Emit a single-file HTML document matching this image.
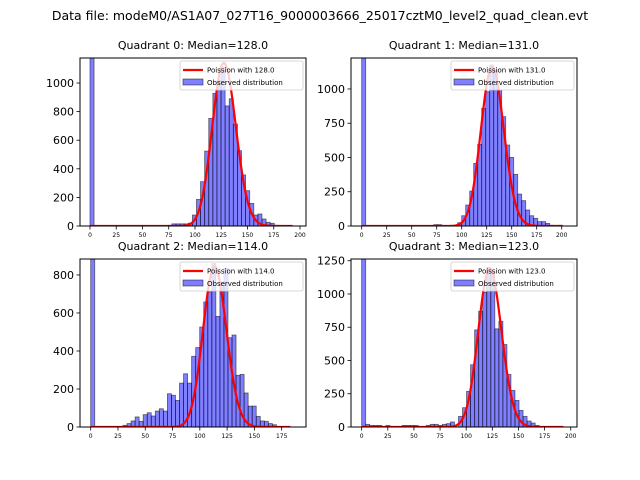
<!DOCTYPE html>
<html><head><meta charset="utf-8">
<style>
html,body{margin:0;padding:0;background:#fff;}
svg{display:block;font-family:"DejaVu Sans","Liberation Sans",sans-serif;}
</style></head>
<body>
<svg id="fig" width="640" height="480" viewBox="0 0 640 480">
<text x="320" y="20" text-anchor="middle" font-size="12.5" fill="#000">Data file: modeM0/AS1A07_027T16_9000003666_25017cztM0_level2_quad_clean.evt</text>
</svg>
<script>
// ---- data ----
const panelTitles = ["Quadrant 0: Median=128.0","Quadrant 1: Median=131.0","Quadrant 2: Median=114.0","Quadrant 3: Median=123.0"];
const medians = [128, 131, 114, 123];
const binWidths = [3.9, 4.0, 3.7, 3.86];
const q0Counts = [1300,0,0,0,0,0,0,0,0,0,0,0,0,0,0,0,0,0,0,5,15,15,15,15,20,77,186,310,524,753,928,1020,1110,840,890,713,527,357,247,158,77,84,49,26,19,5,0,0,0,0];
const q1Counts = [1300,0,0,0,0,0,0,0,0,0,0,0,0,0,0,0,0,0,10,10,0,0,0,0,24,75,153,255,457,596,859,980,1175,1140,993,798,591,501,377,233,185,117,75,56,32,32,19,5,0,5];
const q2Counts = [900,0,0,0,0,0,0,0,9,18,32,53,30,65,75,58,84,96,84,175,167,140,231,280,231,372,418,526,658,711,860,582,763,835,470,484,272,277,179,110,110,56,32,30,18,12,0,0,0,0];
const q3Counts = [1300,20,12,12,12,0,12,0,0,0,12,12,12,12,0,0,12,20,20,12,20,25,38,0,80,145,268,468,730,870,1013,1200,1163,738,795,620,395,275,200,125,80,45,30,12,0,0,0,0,0,0];
const allCounts = [q0Counts, q1Counts, q2Counts, q3Counts];
const curvePeaks = [1140, 1160, 845, 1190];
const curveEnds = [193, 201, 183, 193];
const xTicks = [[0,25,50,75,100,125,150,175,200],[0,25,50,75,100,125,150,175,200],[0,25,50,75,100,125,150,175],[0,25,50,75,100,125,150,175,200]];
const yTicks = [[0,200,400,600,800,1000],[0,250,500,750,1000],[0,200,400,600,800],[0,250,500,750,1000,1250]];
const xLims = [[-9.5,205.7],[-10.7,215.3],[-9.8,197.3],[-10.2,206]];
const yMaxes = [1175, 1226, 884, 1263];
const legendLabels = ["Poission with 128.0","Poission with 131.0","Poission with 114.0","Poission with 123.0"];

// ---- layout ----
const boxes = [[80,58,226,168],[351,58,226,168],[80,259,226,168],[351,259,226,168]];
const NS = "http://www.w3.org/2000/svg";
const svg = document.getElementById('fig');
function mk(tag, attrs, parent){const e=document.createElementNS(NS,tag);for(const k in attrs)e.setAttribute(k,attrs[k]);(parent||svg).appendChild(e);return e;}
function lgPmf(k, lam){
  function lgamma(z){const g=7,c=[0.99999999999980993,676.5203681218851,-1259.1392167224028,771.32342877765313,-176.61502916214059,12.507343278686905,-0.13857109526572012,9.9843695780195716e-6,1.5056327351493116e-7];
    if(z<0.5)return Math.log(Math.PI/Math.sin(Math.PI*z))-lgamma(1-z);z-=1;let x=c[0];for(let i=1;i<g+2;i++)x+=c[i]/(z+i);const t=z+g+0.5;return 0.5*Math.log(2*Math.PI)+(z+0.5)*Math.log(t)-t+Math.log(x);}
  return k*Math.log(lam)-lam-lgamma(k+1);
}
for(let p=0;p<4;p++){
  const [X,Y,W,H]=boxes[p];
  const [x0,x1]=xLims[p]; const ymax=yMaxes[p];
  const sx=v=>X+(v-x0)/(x1-x0)*W;
  const sy=v=>Y+H-v/ymax*H;
  const g=mk('g',{});
  
  
  const cp=mk('clipPath',{id:'cp'+p},g); mk('rect',{x:X,y:Y,width:W,height:H},cp);
  const t=mk('text',{x:X+W/2,y:Y-9,'text-anchor':'middle','font-size':'11'},g); t.textContent=panelTitles[p];
  
  
  const bars=mk('g',{'clip-path':'url(#cp'+p+')'},g);
  
  
  const bw=binWidths[p];
  allCounts[p].forEach((c,i)=>{ if(c<=0)return;
    const r=mk('rect',{x:sx(i*bw),y:sy(c),width:sx((i+1)*bw)-sx(i*bw),height:sy(0)-sy(c),fill:'rgba(0,0,255,0.5)',stroke:'rgba(0,0,0,0.55)','stroke-width':'0.8'},bars);
    
    
  });
  const lam=medians[p]; const peakLog=lgPmf(Math.floor(lam),lam);
  let d='';
  for(let k=0;k<=curveEnds[p];k++){const v=curvePeaks[p]*Math.exp(lgPmf(k,lam)-peakLog);d+=(k?'L':'M')+sx(k).toFixed(2)+','+sy(v).toFixed(2);}
  const ln=mk('path',{d:d,fill:'none',stroke:'#ff0000','stroke-width':'2.2','clip-path':'url(#cp'+p+')'},g);
  
  
  mk('rect',{x:X,y:Y,width:W,height:H,fill:'none',stroke:'#000','stroke-width':'1'},g);
  xTicks[p].forEach(v=>{const x=sx(v);mk('line',{x1:x,x2:x,y1:Y+H,y2:Y+H+3.5,stroke:'#000','stroke-width':'0.8'},g);
    const tt=mk('text',{x:x,y:Y+H+11,'text-anchor':'middle','font-size':'6'},g);tt.textContent=v;
    
    });
  yTicks[p].forEach(v=>{const y=sy(v);mk('line',{x1:X-3.5,x2:X,y1:y,y2:y,stroke:'#000','stroke-width':'0.8'},g);
    const tt=mk('text',{x:X-6,y:y+4,'text-anchor':'end','font-size':'11'},g);tt.textContent=v;
    
    });
  const lg=mk('g',{},g);
  
  
  const LX=X+W-126, LY=Y+3;
  mk('rect',{x:LX,y:LY,width:123,height:29,fill:'rgba(255,255,255,0.8)',stroke:'#ccc','stroke-width':'0.8',rx:'2'},lg);
  mk('line',{x1:LX+3,x2:LX+23,y1:LY+9,y2:LY+9,stroke:'#ff0000','stroke-width':'2.2'},lg);
  const l1=mk('text',{x:LX+27,y:LY+11.5,'font-size':'7'},lg);l1.textContent=legendLabels[p];
  
  
  mk('rect',{x:LX+3,y:LY+18,width:20,height:6,fill:'rgba(0,0,255,0.5)',stroke:'rgba(0,0,0,0.55)','stroke-width':'0.8'},lg);
  const l2=mk('text',{x:LX+27,y:LY+24,'font-size':'7'},lg);l2.textContent='Observed distribution';
  
  
}
</script>
</body></html>
